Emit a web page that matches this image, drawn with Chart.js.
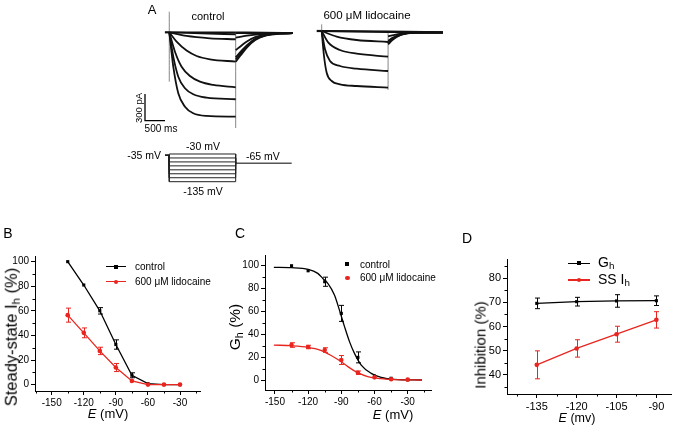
<!DOCTYPE html>
<html>
<head>
<meta charset="utf-8">
<script src="https://cdn.jsdelivr.net/npm/chart.js@4.4.0/dist/chart.umd.min.js"></script>
<style>
  body { margin: 0; background: #fff; }
  #fig { position: relative; width: 675px; height: 425px; overflow: hidden; background: #fff;
         font-family: 'Liberation Sans', Arial, sans-serif; color: #000; }
  #fig canvas { position: absolute; }
  .t { position: absolute; white-space: nowrap; line-height: 1; transform: translate(-50%, -50%); }
  .t sub { font-size: 70%; vertical-align: -0.25em; line-height: 0; }
  .rot { transform: translate(-50%, -50%) rotate(-90deg); }
  .lg { position: absolute; }
</style>
</head>
<body>
<div id="fig">
  <canvas id="ctrlA" width="160" height="135" style="left:140px;top:0px"></canvas>
  <canvas id="lidoA" width="170" height="135" style="left:300px;top:0px"></canvas>
  <canvas id="protA" width="160" height="50" style="left:140px;top:140px"></canvas>
  <canvas id="chartB" width="215" height="185" style="left:0px;top:240px"></canvas>
  <canvas id="chartC" width="215" height="185" style="left:225px;top:240px"></canvas>
  <canvas id="chartD" width="220" height="185" style="left:455px;top:240px"></canvas>

  <!-- panel A text -->
  <div class="t" style="left:152px;top:9px;font-size:13px">A</div>
  <div class="t" style="left:208px;top:16px;font-size:11px">control</div>
  <div class="t" style="left:367px;top:16px;font-size:11.5px">600 &mu;M lidocaine</div>
  <div class="t rot" style="left:139px;top:108px;font-size:9.5px">300 pA</div>
  <div class="t" style="left:161px;top:129px;font-size:10px">500 ms</div>
  <div class="t" style="left:161px;top:155px;font-size:10.5px;transform:translate(-100%,-50%)">-35 mV</div>
  <div class="t" style="left:203px;top:146px;font-size:10.5px">-30 mV</div>
  <div class="t" style="left:203px;top:191px;font-size:10.5px">-135 mV</div>
  <div class="t" style="left:246px;top:156px;font-size:10.5px;transform:translate(0,-50%)">-65 mV</div>

  <!-- panel letters -->
  <div class="t" style="left:8px;top:233px;font-size:14px">B</div>
  <div class="t" style="left:240px;top:233px;font-size:14px">C</div>
  <div class="t" style="left:467px;top:238px;font-size:14px">D</div>

  <!-- axis titles -->
  <div class="t rot" style="left:11px;top:337px;font-size:16.5px">Steady-state I<sub>h</sub> (%)</div>
  <div class="t" style="left:108px;top:413px;font-size:13px"><i>E</i> (mV)</div>
  <div class="t rot" style="left:235px;top:327px;font-size:15.5px">G<sub>h</sub> (%)</div>
  <div class="t" style="left:393px;top:414px;font-size:13px"><i>E</i> (mV)</div>
  <div class="t rot" style="left:480px;top:345px;font-size:15px">Inhibition (%)</div>
  <div class="t" style="left:577px;top:418px;font-size:12.5px"><i>E</i> (mv)</div>

  <!-- legend B -->
  <div class="lg" style="left:106px;top:266px;width:20px;height:1.4px;background:#000"></div>
  <div class="lg" style="left:114px;top:264.7px;width:4px;height:4px;background:#000"></div>
  <div class="t" style="left:135px;top:267px;font-size:10px;transform:translate(0,-50%)">control</div>
  <div class="lg" style="left:106px;top:281px;width:20px;height:1.4px;background:#e8251f"></div>
  <div class="lg" style="left:114px;top:279.7px;width:4px;height:4px;border-radius:50%;background:#e8251f"></div>
  <div class="t" style="left:135px;top:282px;font-size:10px;transform:translate(0,-50%)">600 &mu;M lidocaine</div>

  <!-- legend C -->
  <div class="lg" style="left:345.3px;top:262.3px;width:4px;height:4px;background:#000"></div>
  <div class="t" style="left:360px;top:264.5px;font-size:10px;transform:translate(0,-50%)">control</div>
  <div class="lg" style="left:345px;top:275.5px;width:4.6px;height:4.6px;border-radius:50%;background:#e8251f"></div>
  <div class="t" style="left:360px;top:278px;font-size:10px;transform:translate(0,-50%)">600 &mu;M lidocaine</div>

  <!-- legend D -->
  <div class="lg" style="left:568px;top:262.6px;width:22px;height:1.4px;background:#000"></div>
  <div class="lg" style="left:577px;top:261.3px;width:4px;height:4px;background:#000"></div>
  <div class="t" style="left:598px;top:262px;font-size:14px;transform:translate(0,-50%)">G<sub>h</sub></div>
  <div class="lg" style="left:568px;top:279.3px;width:22px;height:1.4px;background:#e8251f"></div>
  <div class="lg" style="left:577px;top:277.8px;width:4.4px;height:4.4px;border-radius:50%;background:#e8251f"></div>
  <div class="t" style="left:598px;top:279px;font-size:14px;transform:translate(0,-50%)">SS I<sub>h</sub></div>
</div>

<script>
const FONT = "'Liberation Sans', Arial, sans-serif";
const BLACK = '#000000';
const RED = '#e8251f';

// ---- panel A: current traces (time in ms, current in pA) ----
const STEP_END = 1660;
const ctrlBaseline = [[-110, 0], [0, 0]];
const ctrlSteps = [
  [[0, 0], [1660, 0]],
  [[0, 0], [800, -12], [1660, -22]],
  [[0, 0], [433, -41], [1017, -67], [1660, -78]],
  [[0, 0], [183, -105], [433, -205], [683, -265], [1017, -302], [1660, -329]],
  [[0, 0], [142, -217], [308, -385], [517, -489], [767, -553], [1100, -590], [1660, -616]],
  [[0, 0], [100, -273], [225, -497], [392, -627], [600, -694], [933, -732], [1660, -750]],
  [[0, 0], [50, -198], [100, -385], [225, -683], [392, -833], [600, -907], [933, -937], [1660, -945]],
];
const ctrlTails = [
  [[1660, 0], [2400, -4], [3090, -6]],
  [[1660, -8], [2200, -12], [3090, -9]],
  [[1660, -60], [1900, -40], [2300, -20], [3090, -8]],
  [[1660, -200], [1800, -150], [1950, -100], [2150, -55], [2400, -27], [2750, -12], [3090, -10]],
  [[1660, -280], [1780, -220], [1950, -140], [2150, -72], [2400, -33], [2750, -13], [3090, -10]],
  [[1660, -305], [1780, -240], [1950, -150], [2150, -78], [2400, -35], [2750, -14], [3090, -10]],
  [[1660, -330], [1780, -260], [1950, -165], [2150, -85], [2400, -38], [2750, -15], [3090, -10]],
];
const ctrlTransients = [
  [[0, 231], [0, -553]],
  [[1660, 0], [1660, -1072]],
];
const scaleBar = [[-607, -690], [-607, -990], [-107, -990]];

const lidoBaseline = [[-125, 0], [0, 0]];
const lidoSteps = [
  [[0, 0], [1660, -4]],
  [[0, 0], [1660, -12]],
  [[0, 0], [375, -63], [875, -101], [1660, -123]],
  [[0, 0], [167, -131], [458, -213], [875, -254], [1660, -287]],
  [[0, 0], [83, -205], [208, -336], [458, -392], [875, -422], [1660, -448]],
  [[0, 0], [58, -280], [125, -467], [250, -560], [458, -597], [875, -616], [1660, -635]],
];
const lidoTails = [
  [[1660, -4], [3030, -12]],
  [[1660, -12], [3030, -16]],
  [[1660, -60], [1800, -45], [2000, -30], [2400, -19], [3030, -18]],
  [[1660, -110], [1760, -80], [1900, -48], [2100, -26], [2400, -19], [3030, -18]],
  [[1660, -130], [1760, -92], [1900, -55], [2100, -28], [2400, -19], [3030, -18]],
  [[1660, -150], [1760, -105], [1900, -60], [2100, -30], [2400, -20], [3030, -18]],
];
const lidoTransients = [
  [[0, 75], [0, -60]],
  [[1660, 0], [1660, -660]],
];

// voltage protocol (mV)
const HOLD_V = -35;
const TAIL_V = -65;
const stepVoltages = [-30, -45, -60, -75, -90, -105, -120, -135];
const protoStart = -107;
const protoEnd = 3060;

// ---- panel B: steady-state Ih (%) ----
const voltB = [-135, -120, -105, -90, -75, -60, -45, -30];
const ssCtrl = [100, 81, 60, 32.6, 7.6, 0.8, 0, 0];
const ssCtrlErr = [0.8, 1, 2.6, 3.8, 2, 0.5, 0, 0];
const ssLido = [56.5, 42.1, 27.4, 13.9, 3, 0, 0, 0];
const ssLidoErr = [5.7, 4, 3, 3.3, 1, 0.4, 0.3, 0.3];
const ticksBx = [-150, -120, -90, -60, -30];
const ticksBy = [0, 20, 40, 60, 80, 100];

// ---- panel C: Gh (%) ----
const voltC = [-135, -120, -105, -90, -75, -60, -45, -30];
const ghCtrl = [100, 95.6, 86, 58.3, 19.8, 3.5, 1.5, 0.3];
const ghCtrlErr = [1, 1.2, 4, 7, 4.8, 1, 0.5, 0.3];
const ghLido = [30.6, 28.9, 26.2, 17.5, 6.4, 2.3, 0.6, 0.3];
const ghLidoErr = [2, 1.5, 2, 3.9, 1.5, 0.8, 0.5, 0.3];
const fitCtrlV = [-151, -135, -120, -111.3, -106.7, -102.2, -96.2, -91.7, -87.1, -82.6, -78.1, -72, -63, -54, -42, -17];
const fitCtrlG = [98.6, 98.3, 96.8, 93.3, 88.9, 84.6, 74.4, 61.2, 46.7, 33.6, 23.3, 13.1, 5.8, 2.3, 0.6, 0];
const fitLidoV = [-151, -135, -120, -109.2, -100, -91.7, -84.1, -75.1, -66.1, -54, -42, -17];
const fitLidoG = [30.6, 30, 28.6, 26.2, 21.9, 17, 11.7, 6.4, 2.9, 1.2, 0.3, 0];
const ticksCx = [-150, -120, -90, -60, -30];
const ticksCy = [0, 20, 40, 60, 80, 100];

// ---- panel D: inhibition (%) ----
const voltD = [-135, -120, -105, -90];
const inhGh = [69.6, 70.3, 70.6, 70.7];
const inhGhErr = [2.2, 1.8, 2.6, 2];
const inhSS = [44.1, 50.9, 56.8, 62.75];
const inhSSErr = [5.8, 3.6, 3.3, 3.4];
const ticksDx = [-135, -120, -105, -90];
const ticksDy = [40, 50, 60, 70, 80];

// ---------- helpers ----------
const pts = arr => arr.map(p => ({ x: p[0], y: p[1] }));
const xy = (xs, ys) => xs.map((x, i) => ({ x, y: ys[i] }));

function traceSet(arr, color, width) {
  return {
    data: pts(arr), borderColor: color, borderWidth: width, pointRadius: 0,
    cubicInterpolationMode: 'monotone', fill: false,
  };
}

function hiddenScales(xmin, xmax, ymin, ymax) {
  return {
    x: { type: 'linear', display: false, min: xmin, max: xmax },
    y: { type: 'linear', display: false, min: ymin, max: ymax },
  };
}

function traceChart(id, datasets, scales) {
  return new Chart(document.getElementById(id), {
    type: 'line',
    data: { datasets },
    options: {
      responsive: false, animation: false, events: [],
      layout: { padding: 0 },
      plugins: { legend: { display: false }, tooltip: { enabled: false } },
      scales,
    },
  });
}

// error bars drawn from each dataset's errorBars array
const errorBarPlugin = {
  id: 'errorBars',
  afterDatasetsDraw(chart) {
    const ctx = chart.ctx;
    const ys = chart.scales.y;
    chart.data.datasets.forEach((ds, i) => {
      if (!ds.errorBars) return;
      const meta = chart.getDatasetMeta(i);
      ctx.save();
      ctx.strokeStyle = ds.borderColor;
      ctx.lineWidth = 1;
      meta.data.forEach((pt, j) => {
        const e = ds.errorBars[j];
        if (!e) return;
        const v = ds.data[j].y;
        const top = ys.getPixelForValue(v + e);
        const bot = ys.getPixelForValue(v - e);
        if (bot - top < 3) return;
        const x = Math.round(pt.x) + 0.5;
        ctx.beginPath();
        ctx.moveTo(x, top); ctx.lineTo(x, bot);
        ctx.moveTo(x - 2.5, top); ctx.lineTo(x + 2.5, top);
        ctx.moveTo(x - 2.5, bot); ctx.lineTo(x + 2.5, bot);
        ctx.stroke();
      });
      ctx.restore();
    });
  },
};

// minor ticks halfway between the major ticks
const minorTickPlugin = {
  id: 'minorTicks',
  afterDraw(chart) {
    const ctx = chart.ctx;
    ctx.save();
    ctx.strokeStyle = '#000';
    ctx.lineWidth = 1;
    ['x', 'y'].forEach(id => {
      const s = chart.scales[id];
      const vals = s.ticks.map(t => t.value);
      if (vals.length < 2) return;
      const step = vals[1] - vals[0];
      ctx.beginPath();
      for (let v = vals[0] - step / 2; v <= s.max; v += step) {
        if (v < s.min) continue;
        const p = Math.round(s.getPixelForValue(v)) + 0.5;
        if (id === 'x') { ctx.moveTo(p, s.top); ctx.lineTo(p, s.top + 2.5); }
        else { ctx.moveTo(s.right, p); ctx.lineTo(s.right - 2.5, p); }
      }
      ctx.stroke();
    });
    ctx.restore();
  },
};

function axis(min, max, ticks, fitSize, isX, fontSize) {
  return {
    type: 'linear', min, max,
    afterBuildTicks: s => { s.ticks = ticks.map(v => ({ value: v })); },
    afterFit: s => { if (isX) s.height = fitSize; else s.width = fitSize; },
    grid: { drawOnChartArea: false, drawTicks: true, tickLength: 4, tickColor: '#000', tickWidth: 1 },
    border: { display: true, color: '#000', width: 1 },
    ticks: { color: '#000', padding: 2, font: { family: FONT, size: fontSize }, maxRotation: 0, autoSkip: false },
  };
}

function dataChart(id, datasets, xAxis, yAxis, padding) {
  return new Chart(document.getElementById(id), {
    type: 'line',
    data: { datasets },
    options: {
      responsive: false, animation: false, events: [],
      layout: { padding },
      plugins: { legend: { display: false }, tooltip: { enabled: false } },
      scales: { x: xAxis, y: yAxis },
    },
    plugins: [errorBarPlugin, minorTickPlugin],
  });
}

// ---------- panel A ----------
const TRACE = '#111111';
const GREY = '#777777';
traceChart('ctrlA', [
  traceSet(ctrlBaseline, TRACE, 2.2),
  ...ctrlSteps.map(a => traceSet(a, TRACE, 1.8)),
  ...ctrlTails.map(a => traceSet(a, TRACE, 1.8)),
  ...ctrlTransients.map(a => traceSet(a, GREY, 0.9)),
  { data: pts(scaleBar), borderColor: BLACK, borderWidth: 1.3, pointRadius: 0, tension: 0 },
], hiddenScales(-732, 3268, -1150.2, 361.8));

traceChart('lidoA', [
  traceSet(lidoBaseline, TRACE, 2.2),
  ...lidoSteps.map(a => traceSet(a, TRACE, 1.8)),
  ...lidoTails.map(a => traceSet(a, TRACE, 1.8)),
  ...lidoTransients.map(a => traceSet(a, GREY, 0.9)),
], hiddenScales(-542, 3708, -1164.8, 347.2));

const protoSets = stepVoltages.map(v => ({
  data: pts([[protoStart, HOLD_V], [0, HOLD_V], [0, v], [STEP_END, v], [STEP_END, TAIL_V]]),
  borderColor: '#222', borderWidth: 1, pointRadius: 0, tension: 0,
}));
protoSets.push({
  data: pts([[STEP_END, TAIL_V], [protoEnd, TAIL_V]]),
  borderColor: '#555', borderWidth: 1.5, pointRadius: 0, tension: 0,
});
traceChart('protA', protoSets, hiddenScales(-732, 3268, -166.5, 23.07));

// ---------- panel B ----------
dataChart('chartB', [
  { data: xy(voltB, ssLido), errorBars: ssLidoErr, borderColor: RED, backgroundColor: RED,
    borderWidth: 1.3, pointStyle: 'circle', pointRadius: 2.3, pointBorderWidth: 0, order: 1 },
  { data: xy(voltB, ssCtrl), errorBars: ssCtrlErr, borderColor: BLACK, backgroundColor: BLACK,
    borderWidth: 1.3, pointStyle: 'rect', pointRadius: 2.2, pointBorderWidth: 0, order: 2 },
], axis(-165.6, -11.3, ticksBx, 34, true, 10), axis(-5.2, 104.6, ticksBy, 35, false, 10),
   { top: 16, right: 15, left: 0, bottom: 0 });

// ---------- panel C ----------
dataChart('chartC', [
  { data: xy(voltC, ghLido), errorBars: ghLidoErr, borderColor: RED, backgroundColor: RED,
    showLine: false, pointStyle: 'circle', pointRadius: 2.3, pointBorderWidth: 0, order: 1 },
  { data: xy(voltC, ghCtrl), errorBars: ghCtrlErr, borderColor: BLACK, backgroundColor: BLACK,
    showLine: false, pointStyle: 'rect', pointRadius: 2.2, pointBorderWidth: 0, order: 2 },
  { data: xy(fitLidoV, fitLidoG), borderColor: RED, borderWidth: 1.3, pointRadius: 0,
    cubicInterpolationMode: 'monotone', order: 3 },
  { data: xy(fitCtrlV, fitCtrlG), borderColor: BLACK, borderWidth: 1.3, pointRadius: 0,
    cubicInterpolationMode: 'monotone', order: 4 },
], axis(-159, -8.9, ticksCx, 35, true, 10), axis(-8.75, 109.4, ticksCy, 40, false, 10),
   { top: 15, right: 9, left: 0, bottom: 0 });

// ---------- panel D ----------
dataChart('chartD', [
  { data: xy(voltD, inhGh), errorBars: inhGhErr, borderColor: BLACK, backgroundColor: BLACK,
    borderWidth: 1.3, pointStyle: 'rect', pointRadius: 2.2, pointBorderWidth: 0 },
  { data: xy(voltD, inhSS), errorBars: inhSSErr, borderColor: RED, backgroundColor: RED,
    borderWidth: 1.3, pointStyle: 'circle', pointRadius: 2.3, pointBorderWidth: 0 },
], axis(-146.2, -84.5, ticksDx, 31, true, 11), axis(32, 88, ticksDy, 52, false, 11),
   { top: 19, right: 0, left: 0, bottom: 0 });
</script>
</body>
</html>
